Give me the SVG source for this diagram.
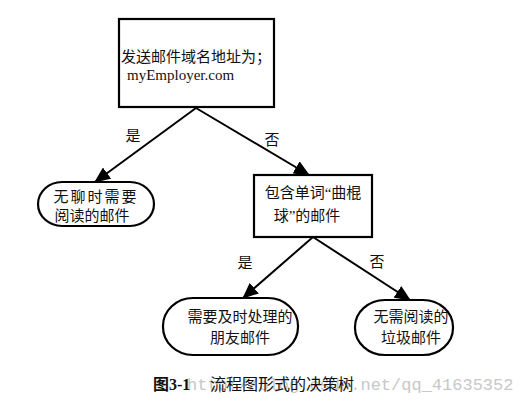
<svg xmlns="http://www.w3.org/2000/svg" width="521" height="403" viewBox="0 0 521 403">
<defs>
<style>
.box{fill:#fff;stroke:#000;stroke-width:2.2}
.t{font-family:"Liberation Serif","Noto Sans CJK SC",serif;font-size:15px;fill:#111;text-anchor:middle}
.lbl{font-family:"Liberation Serif","Noto Sans CJK SC",serif;font-size:15px;fill:#111;text-anchor:middle}
.edge{stroke:#000;stroke-width:2;fill:none}
.cap{font-family:"Liberation Serif","Noto Sans CJK SC",serif;font-size:16px;fill:#111}
.wm{font-family:"Liberation Mono","DejaVu Sans Mono",monospace;font-size:17px;fill:#c8c8c8}
</style>
<marker id="ah" markerUnits="userSpaceOnUse" markerWidth="16" markerHeight="14" viewBox="0 0 16 14" refX="15" refY="7" orient="auto">
<path d="M0,0 L16,7 L0,14 Z" fill="#000"/>
</marker>
</defs>
<rect width="521" height="403" fill="#fff"/>
<text class="wm" x="187" y="390">http://blog.csdn.net/qq_41635352</text>
<g id="edges">
<line class="edge" x1="196" y1="108" x2="95" y2="182" marker-end="url(#ah)"/>
<line class="edge" x1="196" y1="108" x2="309" y2="175" marker-end="url(#ah)"/>
<line class="edge" x1="313" y1="237" x2="243" y2="298" marker-end="url(#ah)"/>
<line class="edge" x1="313" y1="237" x2="410" y2="300" marker-end="url(#ah)"/>
<text class="lbl" x="133" y="141">是</text>
<text class="lbl" x="272" y="145">否</text>
<text class="lbl" x="245" y="268">是</text>
<text class="lbl" x="377" y="267">否</text>
</g>
<g id="root">
<rect class="box" x="119" y="19" width="155" height="88"/>
<text class="t" x="196" y="62">发送邮件域名地址为；</text>
<text class="t" x="127" y="80" style="text-anchor:start">myEmployer.com</text>
</g>
<g id="leaf1">
<rect class="box" x="38" y="182" width="116" height="44" rx="24" ry="22"/>
<text class="t" x="96" y="202" letter-spacing="2">无聊时需要</text>
<text class="t" x="92" y="221">阅读的邮件</text>
</g>
<g id="node2">
<rect class="box" x="254" y="175" width="118" height="62"/>
<text class="t" x="313" y="198">包含单词“曲棍</text>
<text class="t" x="307" y="221">球”的邮件</text>
</g>
<g id="leaf2">
<rect class="box" x="163" y="298" width="135" height="57" rx="30" ry="28"/>
<text class="t" x="240" y="322">需要及时处理的</text>
<text class="t" x="240" y="343">朋友邮件</text>
</g>
<g id="leaf3">
<rect class="box" x="355" y="300" width="98" height="55" rx="30" ry="27"/>
<text class="t" x="411" y="322">无需阅读的</text>
<text class="t" x="411" y="343">垃圾邮件</text>
</g>
<g id="caption">
<text class="cap" x="153" y="390" font-weight="bold">图3-1</text>
<text class="cap" x="210" y="390">流程图形式的决策树</text>
</g>
</svg>
